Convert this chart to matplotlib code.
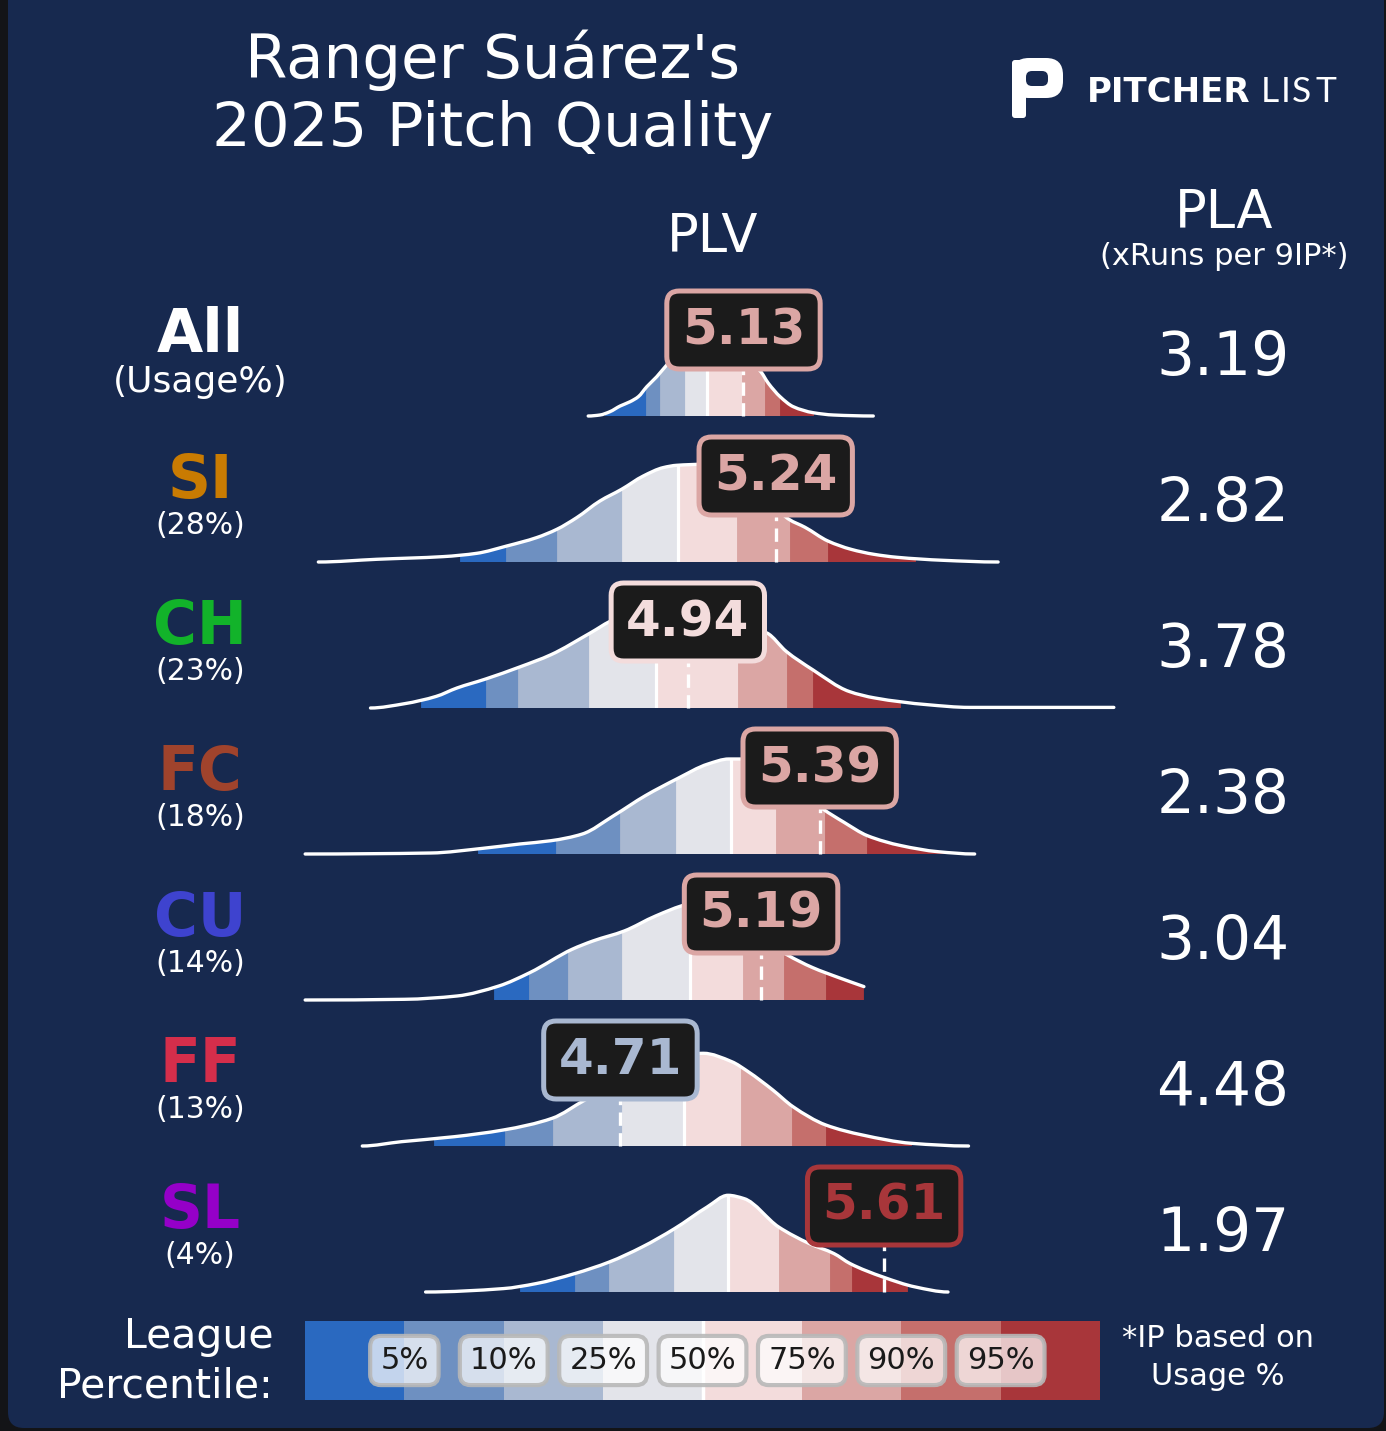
import numpy as np
import matplotlib
matplotlib.use('Agg')
import matplotlib.pyplot as plt
from matplotlib.patches import FancyBboxPatch, PathPatch
from matplotlib.path import Path

# ---------------- data ----------------
pitch_types = ['All', 'SI', 'CH', 'FC', 'CU', 'FF', 'SL']
usage_labels = ['(Usage%)', '(28%)', '(23%)', '(18%)', '(14%)', '(13%)', '(4%)']
plv_values = [5.13, 5.24, 4.94, 5.39, 5.19, 4.71, 5.61]
pla_values = [3.19, 2.82, 3.78, 2.38, 3.04, 4.48, 1.97]
pitch_colors = ['#ffffff', '#c97b02', '#12b32a', '#a0432c', '#3e43cf', '#d52e4b', '#9500c8']

percentile_labels = ['5%', '10%', '25%', '50%', '75%', '90%', '95%']
band_colors = ['#2a69c0', '#6e90c1', '#a9b8d1', '#e3e4ea',
               '#f3dcdc', '#dba6a4', '#c56f6c', '#a8363a']

# league band edges per pitch type (PLV units)
edges_all = [4.657, 4.797, 4.845, 4.930, 5.004, 5.125, 5.203, 5.255, 5.367]
edges_si = [4.163, 4.320, 4.493, 4.714, 4.908, 5.107, 5.289, 5.418, 5.715]
edges_ch = [4.030, 4.250, 4.362, 4.603, 4.830, 5.112, 5.277, 5.366, 5.664]
edges_fc = [4.223, 4.491, 4.709, 4.898, 5.089, 5.241, 5.408, 5.553, 5.818]
edges_cu = [4.277, 4.398, 4.530, 4.714, 4.946, 5.130, 5.268, 5.410, 5.541]
edges_ff = [4.073, 4.317, 4.480, 4.714, 4.927, 5.121, 5.296, 5.411, 5.702]
edges_sl = [4.366, 4.554, 4.670, 4.892, 5.077, 5.250, 5.425, 5.501, 5.688]

# density outlines: PLV position and relative height
all_x = [4.600, 4.640, 4.674, 4.709, 4.743, 4.771, 4.800, 4.834, 4.868, 4.885, 4.930,
         4.999, 5.067, 5.135, 5.186, 5.215, 5.255, 5.300, 5.368, 5.437, 5.573]
all_y = [0.0, 0.01, 0.043, 0.10, 0.143, 0.193, 0.293, 0.393, 0.51, 0.56, 0.63,
         0.66, 0.63, 0.55, 0.453, 0.327, 0.193, 0.093, 0.033, 0.01, 0.0]

si_x = [3.679, 3.878, 4.106, 4.220, 4.322, 4.424, 4.493, 4.561, 4.640, 4.714, 4.788, 4.856,
        4.902, 4.993, 5.084, 5.169, 5.238, 5.285, 5.340, 5.418, 5.497, 5.575, 5.654, 5.811, 5.999]
si_y = [0.0, 0.027, 0.054, 0.087, 0.16, 0.244, 0.327, 0.444, 0.61, 0.727, 0.86, 0.944,
        0.967, 0.977, 0.90, 0.75, 0.55, 0.427, 0.347, 0.21, 0.127, 0.077, 0.047, 0.017, 0.0]

ch_x = [3.857, 3.973, 4.081, 4.152, 4.250, 4.366, 4.473, 4.607, 4.687, 4.777, 4.862,
        4.947, 5.033, 5.118, 5.210, 5.276, 5.366, 5.490, 5.579, 5.758, 5.901, 6.394]
ch_y = [0.0, 0.043, 0.116, 0.20, 0.29, 0.41, 0.533, 0.75, 0.883, 0.96, 0.99,
        0.98, 0.92, 0.83, 0.75, 0.566, 0.383, 0.166, 0.10, 0.033, 0.006, 0.006]

fc_x = [3.634, 4.063, 4.241, 4.366, 4.473, 4.580, 4.687, 4.795, 4.902, 5.009, 5.080,
        5.143, 5.221, 5.323, 5.401, 5.473, 5.553, 5.669, 5.794, 5.919]
fc_y = [0.0, 0.01, 0.057, 0.10, 0.133, 0.20, 0.383, 0.583, 0.75, 0.90, 0.95,
        0.95, 0.86, 0.63, 0.45, 0.317, 0.183, 0.083, 0.023, 0.0]

cu_x = [3.634, 3.973, 4.152, 4.295, 4.401, 4.545, 4.616, 4.723, 4.830, 4.937, 5.016,
        5.118, 5.203, 5.276, 5.366, 5.455, 5.541]
cu_y = [0.0, 0.007, 0.04, 0.14, 0.274, 0.507, 0.59, 0.69, 0.84, 0.957, 1.0,
        0.85, 0.60, 0.457, 0.324, 0.224, 0.134]

ff_x = [3.829, 3.962, 4.143, 4.310, 4.477, 4.589, 4.709, 4.811, 4.913, 4.993, 5.090,
        5.146, 5.230, 5.299, 5.411, 5.536, 5.703, 5.898]
ff_y = [0.0, 0.043, 0.093, 0.16, 0.277, 0.46, 0.64, 0.78, 0.89, 0.927, 0.843,
        0.743, 0.56, 0.393, 0.21, 0.11, 0.027, 0.0]

sl_x = [4.045, 4.310, 4.422, 4.554, 4.672, 4.784, 4.895, 5.006, 5.077, 5.132, 5.250,
        5.355, 5.439, 5.494, 5.606, 5.717, 5.828]
sl_y = [0.0, 0.034, 0.084, 0.184, 0.30, 0.45, 0.634, 0.85, 0.967, 0.934, 0.65,
        0.484, 0.384, 0.284, 0.15, 0.05, 0.0]

curves_x = [all_x, si_x, ch_x, fc_x, cu_x, ff_x, sl_x]
curves_y = [all_y, si_y, ch_y, fc_y, cu_y, ff_y, sl_y]
band_edges = [edges_all, edges_si, edges_ch, edges_fc, edges_cu, edges_ff, edges_sl]


def smooth_path(xs, ys, base):
    """Bezier path through the read points (PCHIP-style tangents, no overshoot)."""
    xs = np.asarray(xs, float)
    ys = np.asarray(ys, float)
    n = len(xs)
    d = np.diff(ys) / np.diff(xs)
    m = np.zeros(n)
    for i in range(1, n - 1):
        if d[i - 1] * d[i] > 0:
            h0, h1 = xs[i] - xs[i - 1], xs[i + 1] - xs[i]
            w1, w2 = 2 * h1 + h0, h1 + 2 * h0
            m[i] = (w1 + w2) / (w1 / d[i - 1] + w2 / d[i])
    m[-1] = 0.0 if ys[-1] < 0.02 else d[-1]
    verts = [(xs[0], base + ys[0])]
    codes = [Path.MOVETO]
    for i in range(n - 1):
        h = xs[i + 1] - xs[i]
        verts += [(xs[i] + h / 3, base + ys[i] + m[i] * h / 3),
                  (xs[i + 1] - h / 3, base + ys[i + 1] - m[i + 1] * h / 3),
                  (xs[i + 1], base + ys[i + 1])]
        codes += [Path.CURVE4] * 3
    return verts, codes


# ---------------- layout ----------------
W, H = 1386, 1431
NAVY = '#17294f'
plt.rcParams['font.family'] = ['DejaVu Sans']

fig = plt.figure(figsize=(W / 100, H / 100), dpi=100)
fig.patch.set_facecolor('#131417')

# overlay axes in pixel units
ax0 = fig.add_axes([0, 0, 1, 1], zorder=0)
ax0.set_xlim(0, W)
ax0.set_ylim(H, 0)
ax0.axis('off')
ax0.add_patch(FancyBboxPatch((8, -40), 1376, 1468, boxstyle='round,pad=0,rounding_size=16',
                             fc=NAVY, ec='none'))

# title
ax0.text(493, 78, "Ranger Suárez's", ha='center', va='baseline', fontsize=44, color='white')
ax0.text(493, 146, "2025 Pitch Quality", ha='center', va='baseline', fontsize=44, color='white')

# logo
ax0.add_patch(FancyBboxPatch((1012, 58), 51, 40, boxstyle='round,pad=0,rounding_size=17',
                             fc='white', ec='none'))
ax0.add_patch(FancyBboxPatch((1026, 71), 22, 15, boxstyle='round,pad=0,rounding_size=6',
                             fc=NAVY, ec='none'))
ax0.add_patch(FancyBboxPatch((1012, 60), 14, 58, boxstyle='round,pad=0,rounding_size=3',
                             fc='white', ec='none'))
ax0.text(1087, 102, 'PITCHER', ha='left', va='baseline', fontsize=24.5,
         fontweight='bold', color='white')
for ch_, xpos in zip('LIST', [1261, 1281, 1292, 1315]):
    ax0.text(xpos, 102, ch_, ha='left', va='baseline', fontsize=25.5,
             family=['Lato', 'DejaVu Sans'], fontweight='normal', color='white')

# headers
ax0.text(713, 252, 'PLV', ha='center', va='baseline', fontsize=38, color='white')
ax0.text(1224, 228, 'PLA', ha='center', va='baseline', fontsize=38, color='white')
ax0.text(1224, 265, '(xRuns per 9IP*)', ha='center', va='baseline', fontsize=22, color='white')

# PLV axes
px_left, px_right, px_top, px_bot = 300, 1120, 270, 1310
scale = 293.0
off = 759.6
row_step = 1.46
ax = fig.add_axes([px_left / W, 1 - px_bot / H, (px_right - px_left) / W, (px_bot - px_top) / H],
                  zorder=1)
ax.set_xlim((px_left + off) / scale, (px_right + off) / scale)
ax.set_ylim(1.46 - (px_bot - px_top) / 100, 1.46)
ax.axis('off')

for i in range(len(pitch_types)):
    base = -row_step * i
    row_px = 416 + 146 * i
    xs = curves_x[i]
    ys = curves_y[i]
    edges = band_edges[i]

    verts, codes = smooth_path(xs, ys, base)
    clip_verts = verts + [(xs[-1], base), (xs[0], base), (xs[0], base)]
    clip_codes = codes + [Path.LINETO, Path.LINETO, Path.CLOSEPOLY]
    clip_patch = PathPatch(Path(clip_verts, clip_codes), transform=ax.transData,
                           fc='none', ec='none')

    for j in range(8):
        a, b = edges[j], edges[j + 1]
        poly = ax.fill_between([a, b], base, base + 1.3, color=band_colors[j], lw=0.6, zorder=1)
        poly.set_clip_path(clip_patch)
    m = edges[4]
    med, = ax.plot([m, m], [base, base + 1.3], color='white', lw=2.3,
                   solid_capstyle='butt', zorder=2)
    med.set_clip_path(clip_patch)
    ax.add_patch(PathPatch(Path(verts, codes), fc='none', ec='white', lw=2.4,
                           joinstyle='round', capstyle='round', zorder=3))

    v = plv_values[i]
    k = int(np.clip(np.searchsorted(edges, v) - 1, 0, 7))
    c = band_colors[k]
    ax.plot([v, v], [base, base + 0.86], color='white', lw=2.4, dashes=(4, 2.2), zorder=4)
    ax.text(v, base + 0.86, f'{v:.2f}', ha='center', va='center', fontsize=36,
            fontweight='bold', color=c, zorder=5,
            bbox=dict(boxstyle='round,pad=0.3,rounding_size=0.25', fc='#1b1b1b', ec=c, lw=3.6))

    # row labels
    ax0.text(200, row_px - 64, pitch_types[i], ha='center', va='baseline', fontsize=43,
             fontweight='bold', color=pitch_colors[i])
    ax0.text(200, row_px - (24 if i == 0 else 28), usage_labels[i], ha='center', va='baseline',
             fontsize=26 if i == 0 else 21.5, color='white')
    ax0.text(1223, row_px - 41, f'{pla_values[i]:.2f}', ha='center', va='baseline',
             fontsize=43, color='white')

# legend bar
axl = fig.add_axes([305 / W, 1 - 1400 / H, 795 / W, 79 / H], zorder=1)
axl.bar(np.arange(8) + 0.5, np.ones(8), width=1.0, color=band_colors, lw=0)
axl.axvline(4, color='white', lw=2.5)
axl.set_xlim(0, 8)
axl.set_ylim(0, 1)
axl.axis('off')
for j, lab in enumerate(percentile_labels):
    axl.text(j + 1, 0.5, lab, ha='center', va='center', fontsize=22, color='#1a1a1a',
             bbox=dict(boxstyle='round,pad=0.33,rounding_size=0.35', fc=(1, 1, 1, 0.72),
                       ec=(0.72, 0.72, 0.72, 0.9), lw=3))

ax0.text(273, 1348, 'League', ha='right', va='baseline', fontsize=29.5, color='white')
ax0.text(273, 1397, 'Percentile:', ha='right', va='baseline', fontsize=29.5, color='white')
ax0.text(1218, 1347, '*IP based on', ha='center', va='baseline', fontsize=22, color='white')
ax0.text(1218, 1385, 'Usage %', ha='center', va='baseline', fontsize=22, color='white')

fig.savefig('out.png', dpi=100, facecolor=fig.get_facecolor())
